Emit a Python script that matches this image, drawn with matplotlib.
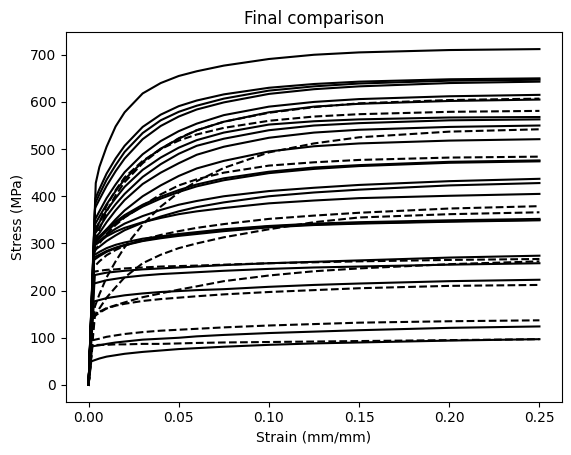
import matplotlib
matplotlib.use('Agg')
import matplotlib.pyplot as plt

# strains where every curve is sampled after its yield point
strain_pts = [0.006, 0.01, 0.015, 0.02, 0.03, 0.04, 0.05, 0.06, 0.075,
              0.1, 0.125, 0.15, 0.2, 0.25]

# solid curves: yield strain, yield stress, stresses at strain_pts
solid_yield_strain = [0.004, 0.0038, 0.0037, 0.0036, 0.0035, 0.0035, 0.0035, 0.0034,
                      0.0033, 0.0033, 0.0033, 0.0033, 0.003, 0.003, 0.003, 0.003,
                      0.003, 0.003, 0.0035, 0.003, 0.003, 0.002, 0.0015]
solid_yield_stress = [428, 395, 385, 375, 350, 340, 330, 320,
                      310, 300, 305, 300, 295, 285, 295, 275,
                      265, 270, 233, 215, 177, 82, 50]
solid_stress = [
    [462, 505, 548, 578, 618, 640, 655, 665, 677, 691, 700, 705, 710, 712],
    [415, 448, 480, 507, 547, 573, 591, 603, 616, 630, 638, 643, 648, 650],
    [404, 435, 466, 494, 534, 561, 579, 592, 607, 624, 633, 639, 645, 647],
    [393, 422, 453, 480, 521, 549, 569, 584, 599, 617, 627, 633, 640, 643],
    [368, 396, 425, 451, 489, 517, 538, 554, 572, 590, 600, 606, 612, 615],
    [357, 383, 411, 436, 473, 501, 522, 540, 558, 578, 590, 596, 602, 605],
    [345, 370, 396, 420, 456, 482, 503, 519, 535, 552, 559, 563, 567, 568],
    [334, 358, 383, 405, 441, 468, 490, 507, 522, 540, 550, 555, 561, 563],
    [322, 345, 370, 392, 426, 450, 470, 488, 505, 524, 535, 541, 547, 550],
    [311, 330, 351, 370, 400, 423, 443, 459, 475, 495, 506, 512, 518, 521],
    [315, 330, 346, 360, 382, 399, 413, 425, 438, 452, 461, 466, 473, 476],
    [311, 326, 342, 356, 378, 395, 409, 421, 434, 449, 458, 464, 471, 474],
    [305, 318, 331, 342, 358, 371, 382, 390, 400, 411, 418, 424, 432, 437],
    [293, 305, 317, 328, 344, 357, 368, 377, 387, 400, 408, 414, 423, 428],
    [303, 315, 325, 333, 345, 354, 362, 368, 375, 385, 391, 396, 401, 405],
    [282, 290, 297, 302, 310, 315, 320, 324, 330, 337, 342, 345, 349, 352],
    [273, 282, 290, 296, 305, 311, 316, 320, 326, 334, 339, 342, 346, 349],
    [276, 284, 291, 297, 306, 313, 318, 322, 328, 336, 340, 343, 347, 350],
    [235, 238, 240, 242, 245, 247, 249, 251, 254, 258, 261, 264, 270, 274],
    [218, 222, 225, 228, 232, 235, 237, 239, 242, 246, 249, 251, 255, 258],
    [180, 184, 187, 190, 194, 197, 199, 201, 203, 208, 212, 215, 220, 223],
    [84, 87, 90, 92, 96, 98, 100, 103, 106, 110, 113, 116, 121, 124],
    [56, 60, 63, 66, 70, 73, 76, 78, 81, 85, 88, 90, 94, 97],
]

# dashed curves
dashed_yield_strain = [0.0035, 0.0035, 0.0035, 0.003, 0.003, 0.0035, 0.003, 0.003,
                       0.003, 0.0025, 0.002]
dashed_yield_stress = [300, 320, 166, 280, 250, 145, 150, 240, 145, 95, 84]
dashed_stress = [
    [330, 368, 402, 430, 470, 500, 523, 540, 558, 577, 589, 597, 604, 607],
    [345, 380, 413, 440, 475, 500, 518, 531, 545, 560, 569, 574, 579, 581],
    [192, 228, 262, 292, 340, 378, 408, 432, 460, 493, 512, 525, 537, 542],
    [300, 320, 339, 355, 380, 404, 423, 436, 450, 465, 472, 477, 482, 484],
    [262, 275, 286, 295, 308, 318, 326, 333, 341, 352, 359, 365, 374, 379],
    [162, 185, 207, 228, 258, 276, 290, 300, 313, 330, 345, 355, 362, 366],
    [155, 163, 169, 175, 186, 194, 202, 209, 220, 232, 241, 247, 256, 262],
    [242, 244, 245, 247, 249, 251, 252, 253, 255, 258, 260, 262, 265, 267],
    [153, 162, 168, 172, 178, 182, 185, 188, 192, 197, 201, 205, 210, 212],
    [98, 102, 105, 108, 112, 115, 117, 119, 122, 126, 129, 132, 135, 137],
    [85, 85, 86, 86, 87, 87, 88, 89, 90, 91, 92, 93, 95, 97],
]

fig = plt.figure(figsize=(5.71, 4.55), dpi=100)
ax = fig.add_axes([0.1156, 0.1171, 0.8686, 0.8119])

for ey, sy, vals in zip(solid_yield_strain, solid_yield_stress, solid_stress):
    ax.plot([0, ey] + strain_pts, [0, sy] + vals, color='k', ls='-')

for ey, sy, vals in zip(dashed_yield_strain, dashed_yield_stress, dashed_stress):
    ax.plot([0, ey] + strain_pts, [0, sy] + vals, color='k', ls='--')

ax.set_xlabel("Strain (mm/mm)")
ax.set_ylabel("Stress (MPa)")
ax.set_title("Final comparison")

fig.savefig('out.png', dpi=100)
